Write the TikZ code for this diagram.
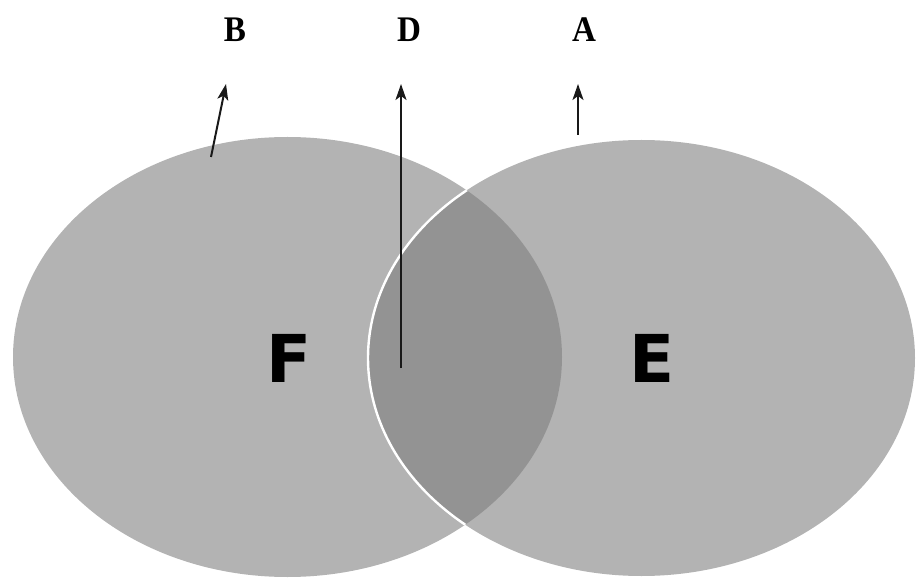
\documentclass[tikz,border=0pt]{standalone}
\usepackage{fontspec}
\setmainfont{Liberation Serif}
\newfontfamily\setsans{DejaVu Sans}
\usepackage{tikz}
\usetikzlibrary{arrows.meta, positioning}
\definecolor{SetGrey}{HTML}{B3B3B3}
\definecolor{LensGrey}{HTML}{939393}

\begin{document}
\begin{tikzpicture}[x=1pt, y=-1pt, >={Stealth[length=16pt, width=11pt, inset=4pt]}]
    \tikzset{letter/.style={font=\bfseries\fontsize{36}{36}\selectfont, inner sep=0pt, xscale=0.92},
             setname/.style={font=\setsans\bfseries\fontsize{66}{66}\selectfont, inner sep=0pt},
             pointer/.style={draw, ->, line width=2pt, black!90}}
    \useasboundingbox (0,0) rectangle (916,580);

    % the two sets and their overlap
    \fill [SetGrey] (287.5,357) ellipse [x radius=274.5pt, y radius=220pt];
    \fill [SetGrey] (641.5,358) ellipse [x radius=273.5pt, y radius=218pt];
    \begin{scope}
        \clip (287.5,357) ellipse [x radius=274.5pt, y radius=220pt];
        \fill [LensGrey] (641.5,358) ellipse [x radius=273.5pt, y radius=218pt];
        \draw [white, line width=2.4pt] (641.5,358) ellipse [x radius=273.5pt, y radius=218pt];
    \end{scope}

    \node [setname] (setF) at (289,358) {F};
    \node [setname] (setE) at (652,358) {E};

    \node [letter] (labB) at (235,30) {B};
    \node [letter] (labD) at (409,30) {D};
    \node [letter] (labA) at (584,30) {A};

    \coordinate (tailB) at (211,157);
    \coordinate (tailD) at (401,368);
    \coordinate (tailA) at (578,135);
    \coordinate (tipB) at (226,84);
    \coordinate (tipD) at (401,84);
    \coordinate (tipA) at (578,84);

    \path [pointer] (tailB) -- (tipB);
    \path [pointer] (tailD) -- (tipD);
    \path [pointer] (tailA) -- (tipA);
\end{tikzpicture}
\end{document}
